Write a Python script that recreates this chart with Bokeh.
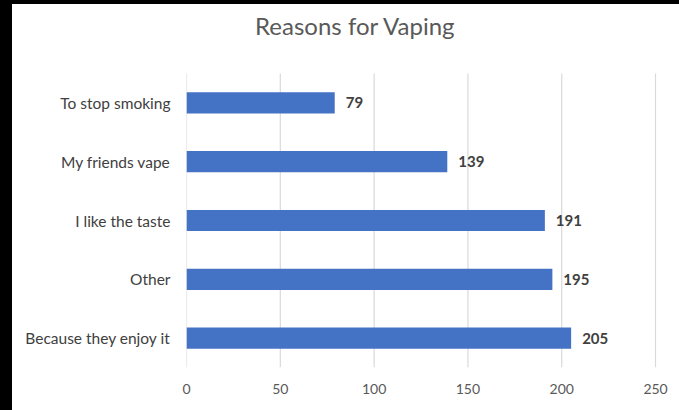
from bokeh.plotting import figure
from bokeh.models import ColumnDataSource, Range1d, FixedTicker
from bokeh.embed import file_html
from bokeh.resources import INLINE
from bokeh.core.properties import value

# ---- data ----
categories = ["Because they enjoy it", "Other", "I like the taste", "My friends vape", "To stop smoking"]
counts = [205, 195, 191, 139, 79]
x_ticks = [0, 50, 100, 150, 200, 250]
title_text = "Reasons for Vaping"

# ---- layout constants (pixels) ----
W, H = 679, 410
FRAME_L, FRAME_R, FRAME_T, FRAME_B = 186, 656, 4, 367
GRID_TOP_PX = 73
X_MAX = 250.5
cat_pos = list(range(1, len(categories) + 1))
Y_LO = 0.5
px_per_cat = (FRAME_B - GRID_TOP_PX) / len(categories)
Y_HI = Y_LO + (FRAME_B - FRAME_T) / px_per_cat
grid_y1 = Y_LO + len(categories)

def px_to_x(px):
    return (px - FRAME_L) * X_MAX / (FRAME_R - FRAME_L)

def px_to_y(py):
    return Y_LO + (FRAME_B - py) / px_per_cat

src = ColumnDataSource(dict(pos=cat_pos, val=counts, lab=[str(v) for v in counts]))
grid_src = ColumnDataSource(dict(x=x_ticks))

p = figure(
    width=W, height=H,
    y_range=Range1d(Y_LO, Y_HI),
    x_range=Range1d(0, X_MAX),
    output_backend="svg", toolbar_location=None,
    min_border_left=FRAME_L, min_border_right=W - FRAME_R,
    min_border_top=FRAME_T, min_border_bottom=H - FRAME_B,
)
p.styles = {
    "background": "linear-gradient(to right, black 12px, transparent 12px), "
                  "linear-gradient(to bottom, black 4px, white 4px)"
}
p.outline_line_color = None
p.background_fill_color = None
p.border_fill_color = None

# vertical gridlines
p.segment(x0="x", y0=Y_LO, x1="x", y1=grid_y1, source=grid_src,
          line_color="#D9D9D9", line_width=1.2)

p.hbar(y="pos", right="val", height=0.36, source=src, color="#4472C4", line_color=None)
p.text(x="val", y="pos", text="lab", source=src, x_offset=11,
       text_font=value("Lato"), text_font_size="15px", text_font_style="bold",
       text_color="#404040", text_baseline="middle", text_align="left")

# chart title
p.text(x=[px_to_x(355)], y=[px_to_y(25)], text=[title_text],
       text_font=value("Lato"), text_font_size="24px", text_color="#595959",
       text_align="center", text_baseline="alphabetic")

p.xgrid.grid_line_color = None
p.ygrid.grid_line_color = None

p.xaxis.ticker = FixedTicker(ticks=x_ticks)
p.xaxis.axis_line_color = None
p.xaxis.major_tick_line_color = None
p.xaxis.minor_tick_line_color = None
p.xaxis.major_label_text_font = "Lato"
p.xaxis.major_label_text_font_size = "14px"
p.xaxis.major_label_text_color = "#595959"
p.xaxis.major_label_standoff = 10

p.yaxis.ticker = FixedTicker(ticks=cat_pos)
p.yaxis.major_label_overrides = {pos: name for pos, name in zip(cat_pos, categories)}
p.yaxis.axis_line_color = None
p.yaxis.major_tick_line_color = None
p.yaxis.minor_tick_line_color = None
p.yaxis.major_label_text_font = "Lato"
p.yaxis.major_label_text_font_size = "15.5px"
p.yaxis.major_label_text_color = "#404040"
p.yaxis.major_label_standoff = 10

open("out.html", "w").write(file_html(p, INLINE))
